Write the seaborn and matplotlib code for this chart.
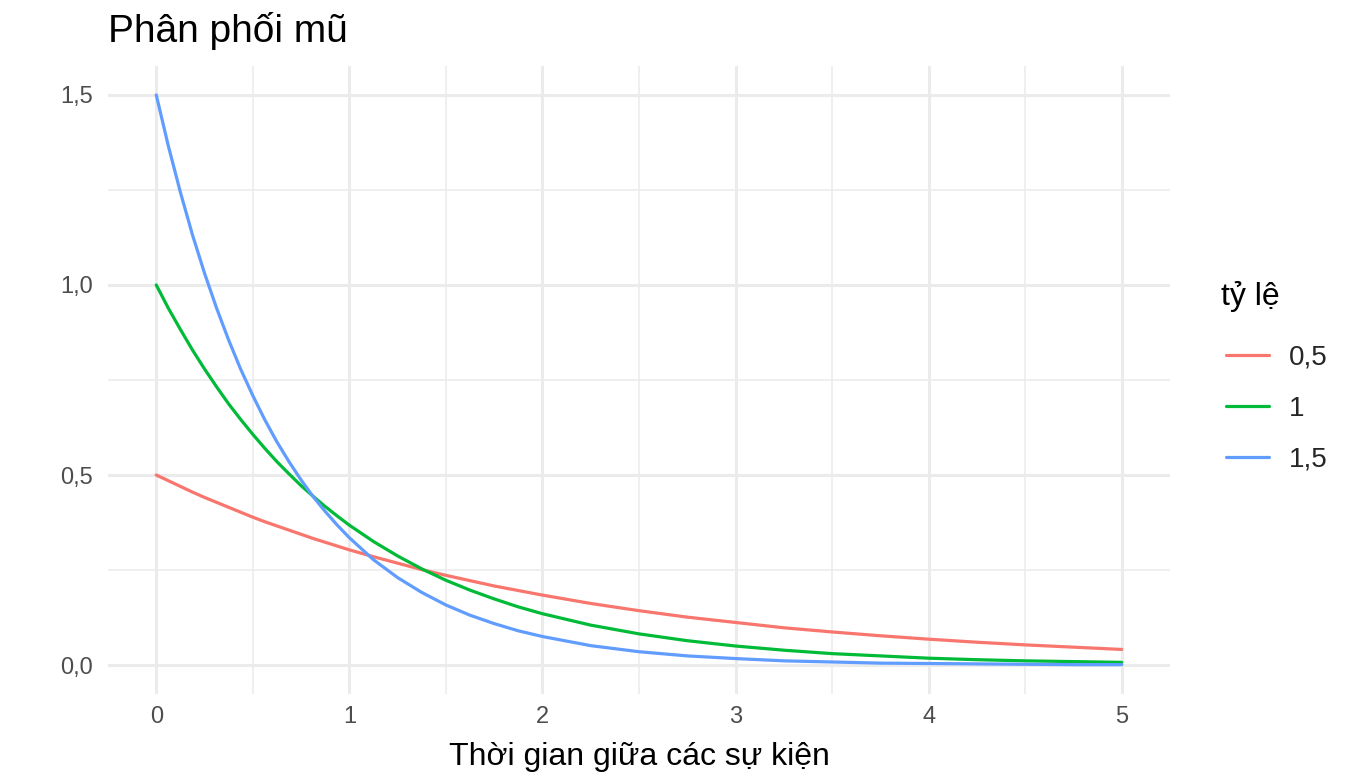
import matplotlib
matplotlib.use("Agg")
import matplotlib.pyplot as plt
import numpy as np
import pandas as pd
import seaborn as sns
from matplotlib.ticker import FuncFormatter, MultipleLocator

# values
x_vals = [0, 0.0625, 0.125, 0.1875, 0.25, 0.3125, 0.375, 0.4375, 0.5, 0.5625, 0.625, 0.6875,
          0.75, 0.8125, 0.875, 0.9375, 1,
          1.125, 1.25, 1.375, 1.5, 1.625, 1.75, 1.875, 2,
          2.25, 2.5, 2.75, 3, 3.25, 3.5, 3.75, 4, 4.25, 4.5, 4.75, 5]
rate_05 = [0.500, 0.485, 0.470, 0.455, 0.441, 0.428, 0.415, 0.402, 0.389, 0.377, 0.366, 0.355,
           0.344, 0.333, 0.323, 0.313, 0.303,
           0.285, 0.268, 0.251, 0.236, 0.222, 0.208, 0.196, 0.184,
           0.162, 0.143, 0.126, 0.112, 0.098, 0.087, 0.077, 0.068, 0.060, 0.053, 0.047, 0.041]
rate_1 = [1.000, 0.939, 0.883, 0.829, 0.779, 0.732, 0.687, 0.646, 0.607, 0.570, 0.535, 0.503,
          0.472, 0.444, 0.417, 0.392, 0.368,
          0.325, 0.287, 0.253, 0.223, 0.197, 0.174, 0.153, 0.135,
          0.105, 0.082, 0.064, 0.050, 0.039, 0.030, 0.024, 0.018, 0.014, 0.011, 0.009, 0.007]
rate_15 = [1.500, 1.366, 1.244, 1.132, 1.031, 0.939, 0.855, 0.778, 0.709, 0.645, 0.587, 0.535,
           0.487, 0.443, 0.404, 0.368, 0.335,
           0.277, 0.230, 0.191, 0.158, 0.131, 0.109, 0.090, 0.075,
           0.051, 0.035, 0.024, 0.017, 0.011, 0.008, 0.005, 0.004, 0.003, 0.002, 0.001, 0.001]
rate_labels = ["0,5", "1", "1,5"]
colors = ["#F8766D", "#00BA38", "#619CFF"]

df = pd.concat([
    pd.DataFrame({"x": x_vals, "y": s, "rate": lab})
    for s, lab in zip([rate_05, rate_1, rate_15], rate_labels)
])

sns.set_style("white")
plt.rcParams["font.family"] = ["Liberation Sans", "DejaVu Sans"]

fig = plt.figure(figsize=(13.6, 7.84), dpi=100)
ax = fig.add_axes([0.0794, 0.1154, 0.7809, 0.7998])

sns.lineplot(data=df, x="x", y="y", hue="rate", palette=colors, linewidth=2.3,
             ax=ax, legend=False)

ax.set_xlim(-0.25, 5.25)
ax.set_ylim(-0.075, 1.575)
ax.xaxis.set_major_locator(MultipleLocator(1))
ax.xaxis.set_minor_locator(MultipleLocator(0.5))
ax.yaxis.set_major_locator(MultipleLocator(0.5))
ax.yaxis.set_minor_locator(MultipleLocator(0.25))
ax.xaxis.set_major_formatter(FuncFormatter(lambda v, p: f"{v:g}"))
ax.yaxis.set_major_formatter(FuncFormatter(lambda v, p: f"{v:.1f}".replace(".", ",")))
ax.grid(which="major", color="#EBEBEB", linewidth=2.2)
ax.grid(which="minor", color="#EBEBEB", linewidth=1.1)
ax.set_axisbelow(True)
for sp in ax.spines.values():
    sp.set_visible(False)
ax.tick_params(which="both", length=0, labelsize=17, labelcolor="#4D4D4D")
ax.tick_params(axis="x", pad=9)
ax.tick_params(axis="y", pad=11)

ax.set_xlabel("Thời gian giữa các sự kiện", fontsize=23, labelpad=10, color="black")
ax.set_ylabel("")
fig.text(0.0794, 0.946, "Phân phối mũ", fontsize=28, ha="left", va="baseline", color="black")

# legend
fig.text(0.898, 0.611, "tỷ lệ", fontsize=23, ha="left", va="baseline", color="black")
handles = [plt.Line2D([], [], color=c, linewidth=2.3) for c in colors]
fig.legend(handles, rate_labels, loc="upper left", bbox_to_anchor=(0.883, 0.592),
           frameon=False, fontsize=20, handlelength=1.55, handletextpad=0.7,
           labelspacing=0.9)

fig.savefig("out.png", dpi=100, facecolor="white")
